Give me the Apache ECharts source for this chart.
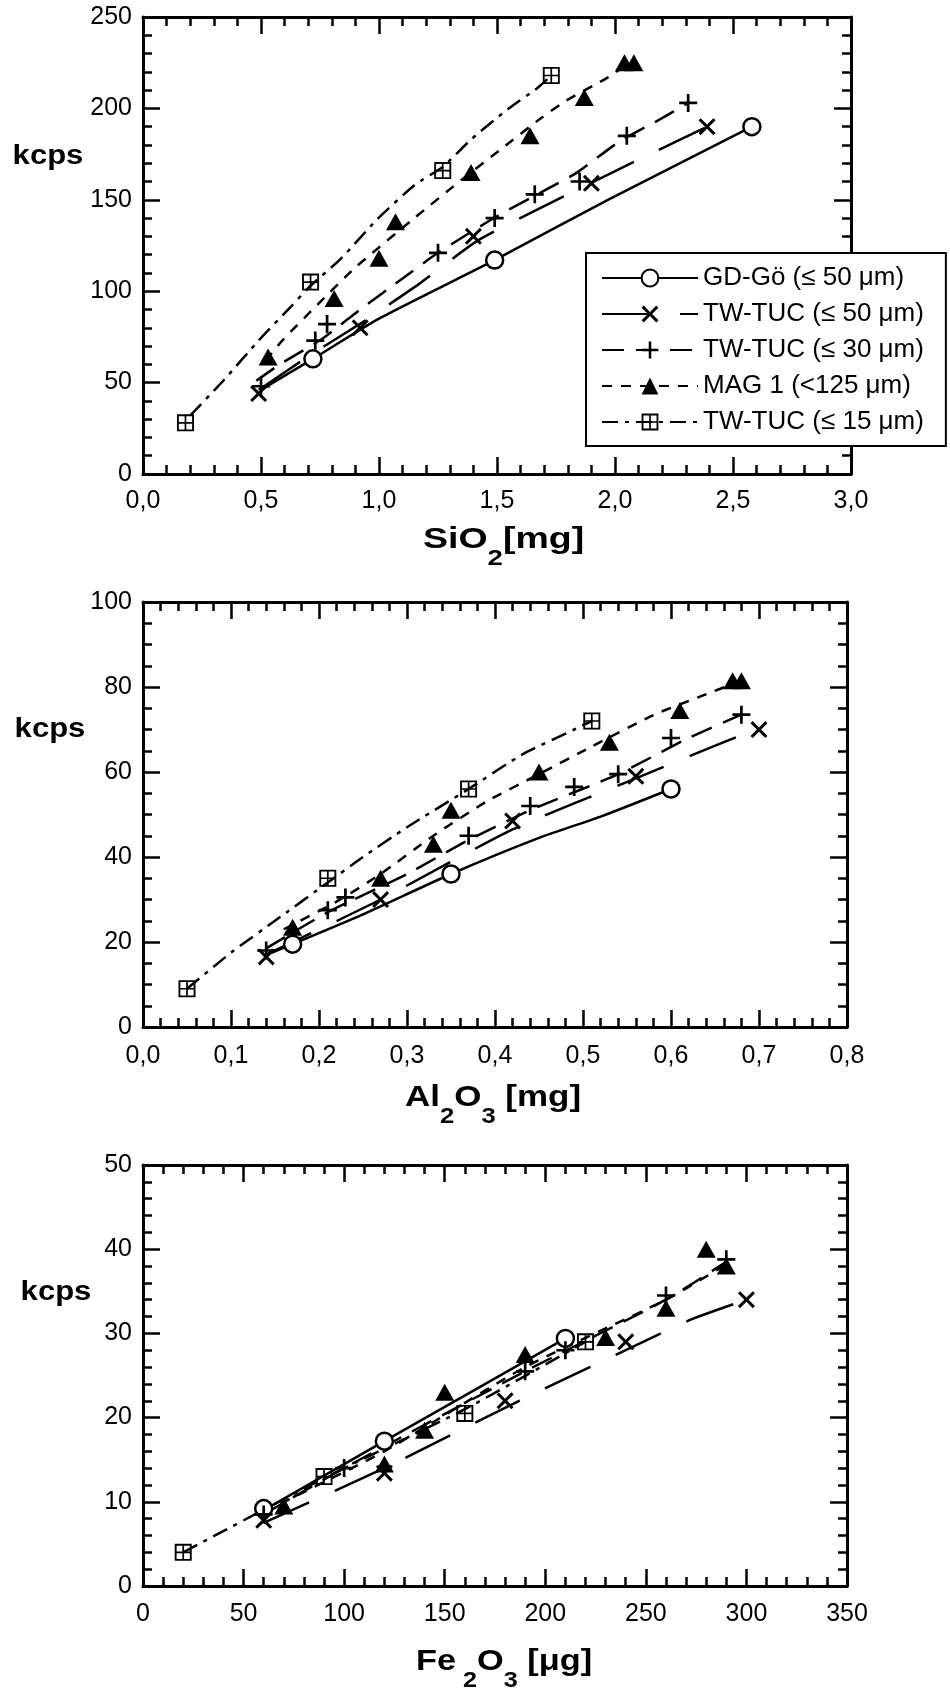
<!DOCTYPE html>
<html><head><meta charset="utf-8">
<script src="https://cdn.jsdelivr.net/npm/echarts@6/dist/echarts.min.js"></script>
<style>html,body{margin:0;padding:0;background:#fff}#c{width:950px;height:1691px}</style>
</head><body><div id="c"></div>
<script>
// ---------------- DATA ----------------
const seriesNames = ['GD-Gö (≤ 50 μm)', 'TW-TUC (≤ 50 μm)', 'TW-TUC (≤ 30 μm)', 'MAG 1 (<125 μm)', 'TW-TUC (≤ 15 μm)'];

// Chart 1: SiO2 [mg] vs kcps
const sio2_gd_pts   = [[0.72,63],[1.49,117],[2.58,190]];
const sio2_gd_line  = [[0.50,46],[0.72,63],[1.00,85],[1.49,117],[1.97,150],[2.58,190]];
const sio2_tw50_pts = [[0.49,44],[0.92,80],[1.40,130],[1.90,159],[2.39,190]];
const sio2_tw50_line= [[0.49,46],[0.72,66],[0.93,83],[1.17,104],[1.41,127],[1.63,142],[1.91,160],[2.10,172],[2.39,190]];
const sio2_tw30_pts = [[0.50,48],[0.73,73],[0.78,82],[1.25,121],[1.49,140],[1.66,153],[1.85,160],[2.05,185],[2.31,203]];
const sio2_tw30_line= [[0.48,51],[0.58,60],[0.76,74],[0.92,90],[1.10,107],[1.25,121],[1.50,141],[1.70,155],[1.84,165],[2.02,182],[2.19,194],[2.31,203]];
const sio2_mag_pts  = [[0.53,64],[0.81,96],[1.00,118],[1.07,138],[1.39,165],[1.64,185],[1.87,206],[2.04,225],[2.08,225]];
const sio2_mag_line = [[0.52,62],[0.59,73],[0.75,94],[0.90,113],[1.15,140],[1.36,162],[1.52,178],[1.69,195],[1.79,204],[1.97,217],[2.06,225]];
const sio2_tw15_pts = [[0.18,28],[0.71,105],[1.27,166],[1.73,218]];
const sio2_tw15_line= [[0.20,32],[0.34,51],[0.49,73],[0.63,92],[0.71,103],[0.84,118],[0.99,139],[1.15,158],[1.27,168],[1.39,183],[1.55,200],[1.67,211],[1.73,218]];

// Chart 2: Al2O3 [mg] vs kcps
const al2o3_gd_pts   = [[0.17,19.5],[0.35,36],[0.60,56]];
const al2o3_gd_line  = [[0.14,17],[0.17,19.5],[0.25,26.5],[0.35,36],[0.45,44.5],[0.52,49.5],[0.60,56]];
const al2o3_tw50_pts = [[0.14,16.5],[0.27,30],[0.42,48.5],[0.56,59],[0.70,70]];
const al2o3_tw50_line= [[0.14,17],[0.27,30],[0.42,46.5],[0.56,58.5],[0.63,64.5],[0.69,69.5]];
const al2o3_tw30_pts = [[0.14,18],[0.21,27.5],[0.23,30.5],[0.37,45],[0.44,52],[0.49,56.5],[0.54,59.5],[0.60,68],[0.68,73.5]];
const al2o3_tw30_line= [[0.14,18.5],[0.21,27],[0.30,36],[0.37,44],[0.44,51],[0.54,59.5],[0.62,68],[0.68,73.5]];
const al2o3_mag_pts  = [[0.17,23.5],[0.27,35],[0.33,43],[0.35,51],[0.45,60],[0.53,67],[0.61,74.5],[0.67,81.5],[0.68,81.5]];
const al2o3_mag_line = [[0.16,23],[0.22,29.5],[0.27,36],[0.33,45],[0.39,53],[0.45,59.5],[0.51,66],[0.58,73.4],[0.63,77.5],[0.68,81.5]];
const al2o3_tw15_pts = [[0.05,9],[0.21,35],[0.37,56],[0.51,72]];
const al2o3_tw15_line= [[0.05,9],[0.10,17.5],[0.15,25],[0.21,34],[0.25,40],[0.30,47],[0.37,56],[0.43,64],[0.49,70],[0.51,72]];

// Chart 3: Fe2O3 [µg] vs kcps
const fe2o3_gd_pts   = [[60,9.2],[120,17.2],[210,29.4]];
const fe2o3_gd_line  = [[60,9],[120,17.2],[210,29.4]];
const fe2o3_tw50_pts = [[60,7.8],[120,13.4],[180,22],[240,29],[300,34]];
const fe2o3_tw50_line= [[60,7.5],[120,14],[187,22],[240,28],[272,31.6],[300,34]];
const fe2o3_tw30_pts = [[60,8.5],[100,14],[190,25.5],[210,28],[260,34.5],[290,38.8]];
const fe2o3_tw30_line= [[60,8.5],[100,14],[190,25.5],[260,34],[290,38.5]];
const fe2o3_mag_pts  = [[70,9.5],[120,14.5],[140,18.5],[150,23],[190,27.5],[230,29.5],[260,33],[280,40],[290,38]];
const fe2o3_mag_line = [[60,8.8],[120,16],[190,26],[260,34],[290,38.2]];
const fe2o3_tw15_pts = [[20,4],[90,13],[160,20.5],[220,29]];
const fe2o3_tw15_line= [[20,4],[90,12.8],[160,21],[220,29]];

// axis ranges / ticks
const xAxisMin = [0, 0, 0], xAxisMax = [3.0, 0.8, 350], xAxisStep = [0.5, 0.1, 50];
const yAxisMin = [0, 0, 0], yAxisMax = [250, 100, 50], yAxisStep = [50, 20, 10];
const xMinorSplit = [5, 5, 5], yMinorSplit = [5, 4, 5];
const xDecimals = [1, 1, 0];
const yTitle = 'kcps';
const xTitles = [
  [['SiO', 0], ['2', 1], ['[mg]', 0]],
  [['Al', 0], ['2', 1], ['O', 0], ['3', 1], [' [mg]', 0]],
  [['Fe', 0], [' 2', 1], ['O', 0], ['3', 1], [' [μg]', 0]]
];

// ---------------- LAYOUT / STYLE ----------------
const FONT = '"Liberation Sans", Arial, Helvetica, sans-serif';
const grids = [
  {left: 143, top: 17, width: 708, height: 457},
  {left: 143, top: 602, width: 704, height: 425},
  {left: 143, top: 1165, width: 704, height: 421}
];
const xLabelMargin = [15, 17, 16];
const kcpsPos = [[48, 157], [50, 730], [56, 1293]];
const titlePos = [[423, 540], [405, 1098], [416, 1662]];
const titleScale = [1.25, 1.165, 1.145];

const X_PATH = 'path://M0,2.5 L2.5,0 L10,7.5 L17.5,0 L20,2.5 L12.5,10 L20,17.5 L17.5,20 L10,12.5 L2.5,20 L0,17.5 L7.5,10 Z';
const PLUS_PATH = 'path://M8.5,0 L11.5,0 L11.5,8.5 L20,8.5 L20,11.5 L11.5,11.5 L11.5,20 L8.5,20 L8.5,11.5 L0,11.5 L0,8.5 L8.5,8.5 Z';
const BOX_PATH = 'path://M0,0 L20,0 L20,20 L0,20 Z M2.2,2.2 L2.2,9 L9,9 L9,2.2 Z M11,2.2 L11,9 L17.8,9 L17.8,2.2 Z M2.2,11 L2.2,17.8 L9,17.8 L9,11 Z M11,11 L11,17.8 L17.8,17.8 L17.8,11 Z';

const styles = [
  {symbol: 'circle', size: 17, fill: '#fff', bw: 2.5, dash: 'solid'},
  {symbol: X_PATH, size: 17, fill: '#000', bw: 0, dash: [50, 28]},
  {symbol: PLUS_PATH, size: 18, fill: '#000', bw: 0, dash: [22, 12]},
  {symbol: 'triangle', size: [19, 17], fill: '#000', bw: 0, dash: [10, 9]},
  {symbol: BOX_PATH, size: 17, fill: '#000', bw: 0, dash: [16, 7, 4, 7]}
];

const allPts = [
  [sio2_gd_pts, sio2_tw50_pts, sio2_tw30_pts, sio2_mag_pts, sio2_tw15_pts],
  [al2o3_gd_pts, al2o3_tw50_pts, al2o3_tw30_pts, al2o3_mag_pts, al2o3_tw15_pts],
  [fe2o3_gd_pts, fe2o3_tw50_pts, fe2o3_tw30_pts, fe2o3_mag_pts, fe2o3_tw15_pts]
];
const allLines = [
  [sio2_gd_line, sio2_tw50_line, sio2_tw30_line, sio2_mag_line, sio2_tw15_line],
  [al2o3_gd_line, al2o3_tw50_line, al2o3_tw30_line, al2o3_mag_line, al2o3_tw15_line],
  [fe2o3_gd_line, fe2o3_tw50_line, fe2o3_tw30_line, fe2o3_mag_line, fe2o3_tw15_line]
];

const axisLineStyle = {show: true, onZero: false, lineStyle: {color: '#000', width: 3}};
function tickCfg() { return {show: true, inside: true, length: 17, lineStyle: {color: '#000', width: 2.5}}; }
function minorCfg(n) { return {show: true, splitNumber: n, length: 9, lineStyle: {color: '#000', width: 2.5}}; }

const xAxes = [], yAxes = [], series = [];
for (let c = 0; c < 3; c++) {
  const dec = xDecimals[c];
  ['bottom', 'top'].forEach((pos, i) => {
    xAxes.push({
      type: 'value', gridIndex: c, position: pos,
      min: xAxisMin[c], max: xAxisMax[c], interval: xAxisStep[c],
      axisLine: axisLineStyle, axisTick: tickCfg(), minorTick: minorCfg(xMinorSplit[c]),
      splitLine: {show: false}, minorSplitLine: {show: false},
      axisLabel: i === 0 ? {show: true, margin: xLabelMargin[c], color: '#000', fontSize: 25, fontFamily: FONT,
        formatter: v => dec ? v.toFixed(dec).replace('.', ',') : String(Math.round(v))} : {show: false}
    });
  });
  ['left', 'right'].forEach((pos, i) => {
    yAxes.push({
      type: 'value', gridIndex: c, position: pos,
      min: yAxisMin[c], max: yAxisMax[c], interval: yAxisStep[c],
      axisLine: axisLineStyle, axisTick: tickCfg(), minorTick: minorCfg(yMinorSplit[c]),
      splitLine: {show: false}, minorSplitLine: {show: false},
      axisLabel: i === 0 ? {show: true, margin: 11, color: '#000', fontSize: 25, fontFamily: FONT,
        formatter: v => String(Math.round(v))} : {show: false}
    });
  });
  for (let k = 0; k < 5; k++) {
    const st = styles[k];
    series.push({
      type: 'line', name: seriesNames[k], xAxisIndex: 2 * c, yAxisIndex: 2 * c,
      data: allLines[c][k], showSymbol: false, symbol: st.symbol, symbolSize: st.size,
      smooth: 0.2, lineStyle: {color: '#000', width: 2.5, type: st.dash},
      itemStyle: {color: st.fill, borderColor: '#000', borderWidth: st.bw},
      silent: true, animation: false, z: 2
    });
    series.push({
      type: 'scatter', name: seriesNames[k], xAxisIndex: 2 * c, yAxisIndex: 2 * c,
      data: allPts[c][k], symbol: st.symbol, symbolSize: st.size,
      itemStyle: {color: st.fill, borderColor: '#000', borderWidth: st.bw, opacity: 1},
      silent: true, animation: false, z: 3
    });
  }
}

// titles via measured text
const mctx = document.createElement('canvas').getContext('2d');
function tw(txt, size) { mctx.font = 'bold ' + size + 'px ' + FONT; return mctx.measureText(txt).width; }
const graphics = [];
for (let c = 0; c < 3; c++) {
  graphics.push({type: 'text', x: kcpsPos[c][0], y: kcpsPos[c][1], scaleX: 1.15,
    style: {text: yTitle, fontSize: 27, fontWeight: 'bold', fontFamily: FONT, fill: '#000', align: 'center', verticalAlign: 'middle'}});
  const kids = []; let cx = 0;
  xTitles[c].forEach(([t, sub]) => {
    const fs = sub ? 22 : 30;
    kids.push({type: 'text', x: cx, y: sub ? 19 : 0,
      style: {text: t, fontSize: fs, fontWeight: 'bold', fontFamily: FONT, fill: '#000', align: 'left', verticalAlign: 'middle'}});
    cx += tw(t, fs);
  });
  graphics.push({type: 'group', x: titlePos[c][0], y: titlePos[c][1], scaleX: titleScale[c], children: kids});
}

const chart = echarts.init(document.getElementById('c'), null, {renderer: 'canvas'});
chart.setOption({
  animation: false,
  backgroundColor: '#fff',
  grid: grids.map(g => Object.assign({containLabel: false}, g)),
  xAxis: xAxes, yAxis: yAxes, series: series,
  legend: {
    data: seriesNames, orient: 'vertical', left: 586, top: 253,
    padding: [12, 22, 11, 15], itemWidth: 96, itemHeight: 21, itemGap: 10,
    backgroundColor: '#fff', borderColor: '#000', borderWidth: 2, borderRadius: 0,
    textStyle: {fontSize: 26, color: '#000', fontFamily: FONT, lineHeight: 22},
    selectedMode: false, z: 10
  },
  graphic: graphics
});
</script></body></html>
